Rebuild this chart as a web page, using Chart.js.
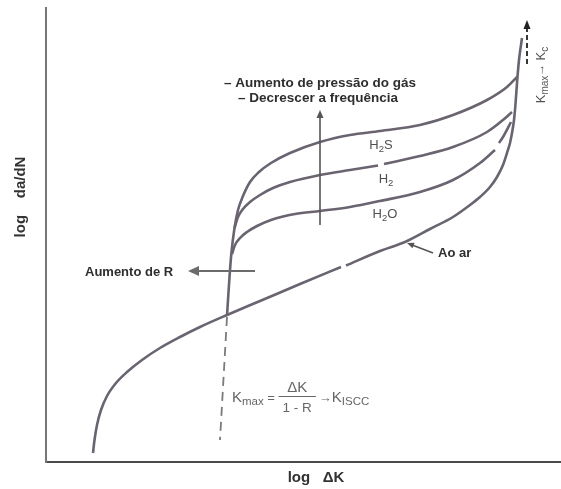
<!DOCTYPE html>
<html><head><meta charset="utf-8">
<script src="https://cdn.jsdelivr.net/npm/chart.js@4.4.0/dist/chart.umd.min.js"></script>
<style>html,body{margin:0;padding:0;background:#fff}</style>
</head><body>
<canvas id="c" width="561" height="489"></canvas>
<script>
// ---- data (arbitrary log units) ----
const airCurve = [[47,9],[48.5,22],[51,37],[55,52],[61,66],[70,79],[81,90],[96,102],[114,114],[134,125],[154,135],[181,147],[214,161],[254,178],[295,195],[297,null],[300,196.5],[334,211],[359,220],[384,233],[407,245],[424,257],[434,265],[444,275],[451,285],[457,297],[461,309],[464,319],[466,329],[468,342],[469.5,358],[471,379],[473,402],[476,424]];
const h2sCurve = [[181,146],[182,162],[183.5,185],[185.5,210],[188.5,234],[192,252],[197,266],[204,280],[213,290],[225,299],[244,309],[274,320],[304,327],[334,331],[374,337],[407,347],[441,362],[461,375],[471,385]];
const h2Curve  = [[188.5,234],[192,245],[197,253],[204,260],[214,267],[227,274],[244,280],[274,287],[304,292],[332,296.5],[334,null],[338,298],[374,306],[407,315],[441,330],[457,342],[466,350]];
const h2oCurve = [[186,208],[189,217],[194,224],[201,230],[211,236],[225,242],[249,248],[274,251],[304,255],[334,261],[374,270],[407,282],[434,299],[449,312],[451,null],[453,319],[457,325],[465,340]];
const kisccLine = [[181,145],[174,22]];

const xRange = [0, 514];
const yRange = [0, 454];

const arrowPressure = [[274,237],[274,352]];
const arrowR = [[209,191],[142,191]];
const arrowAir = [[387,209],[361,219]];
const arrowKc = [[481,398],[481,442]];

const noteLines = ['– Aumento de pressão do gás', '– Decrescer a frequência'];
const notePos = [[274,379],[272,364]];
const gasLabels = [['H','2','S'],['H','2',''],['H','2','O']];
const gasPos = [[335,317],[340,283],[339,248]];
const labelR = 'Aumento de R';
const labelRPos = [39,190];
const labelAir = 'Ao ar';
const labelAirPos = [392,209];
const kcPos = [495,387];
const formulaPos = [186,64];
const yTitle = 'log    da/dN';
const xTitle = 'log   ΔK';

const FONT = "'Liberation Sans', Arial, Helvetica, sans-serif";
const curveColor = '#6a6370';

const toXY = a => a.map(p => ({x: p[0], y: p[1]}));

function drawArrow(ctx, x1, y1, x2, y2, o) {
  const a = Math.atan2(y2 - y1, x2 - x1), L = o.head, W = o.hw;
  ctx.save();
  ctx.strokeStyle = o.color; ctx.fillStyle = o.color; ctx.lineWidth = o.width;
  ctx.setLineDash(o.dash || []);
  ctx.beginPath(); ctx.moveTo(x1, y1);
  ctx.lineTo(x2 - Math.cos(a) * L * 0.8, y2 - Math.sin(a) * L * 0.8); ctx.stroke();
  ctx.setLineDash([]);
  ctx.beginPath(); ctx.moveTo(x2, y2);
  ctx.lineTo(x2 - L * Math.cos(a) + W * Math.sin(a), y2 - L * Math.sin(a) - W * Math.cos(a));
  ctx.lineTo(x2 - L * Math.cos(a) - W * Math.sin(a), y2 - L * Math.sin(a) + W * Math.cos(a));
  ctx.closePath(); ctx.fill();
  ctx.restore();
}

function runs(ctx, segs, x, y, align) {
  let w = 0;
  segs.forEach(s => { ctx.font = (s.b ? 'bold ' : '') + s.s + 'px ' + FONT; s.w = ctx.measureText(s.t).width; w += s.w; });
  let cx = align === 'center' ? x - w / 2 : x;
  segs.forEach(s => { ctx.font = (s.b ? 'bold ' : '') + s.s + 'px ' + FONT; ctx.fillText(s.t, cx, y + (s.dy || 0)); cx += s.w; });
  return w;
}

const annot = {
  id: 'annot',
  afterDatasetsDraw(chart) {
    const ctx = chart.ctx, sx = chart.scales.x, sy = chart.scales.y;
    const P = p => [sx.getPixelForValue(p[0]), sy.getPixelForValue(p[1])];
    ctx.save();
    ctx.textBaseline = 'middle';

    // arrows
    let a = P(arrowPressure[0]), b = P(arrowPressure[1]);
    drawArrow(ctx, a[0], a[1], b[0], b[1], {head: 8, hw: 3.5, color: '#555', width: 1.6});
    a = P(arrowR[0]); b = P(arrowR[1]);
    drawArrow(ctx, a[0], a[1], b[0], b[1], {head: 11, hw: 5, color: '#6b6b6b', width: 2});
    a = P(arrowAir[0]); b = P(arrowAir[1]);
    drawArrow(ctx, a[0], a[1], b[0], b[1], {head: 7, hw: 3, color: '#555', width: 1.6});
    a = P(arrowKc[0]); b = P(arrowKc[1]);
    drawArrow(ctx, a[0], a[1], b[0], b[1], {head: 9, hw: 3.5, color: '#222', width: 1.8, dash: [5, 3]});

    // notes
    ctx.fillStyle = '#2e2e2e'; ctx.textAlign = 'left';
    noteLines.forEach((t, i) => { const p = P(notePos[i]); runs(ctx, [{t, s: 13.5, b: true}], p[0], p[1], 'center'); });
    let p = P(labelRPos);
    runs(ctx, [{t: labelR, s: 13, b: true}], p[0], p[1], 'left');
    p = P(labelAirPos);
    runs(ctx, [{t: labelAir, s: 13, b: true}], p[0], p[1], 'left');

    // gas labels
    ctx.fillStyle = '#505050';
    gasLabels.forEach((g, i) => {
      const q = P(gasPos[i]);
      runs(ctx, [{t: g[0], s: 13}, {t: g[1], s: 9.5, dy: 4}, {t: g[2], s: 13}], q[0], q[1], 'center');
    });

    // formula
    ctx.fillStyle = '#666';
    p = P(formulaPos);
    let cx = p[0], cy = p[1];
    cx += runs(ctx, [{t: 'K', s: 15}, {t: 'max', s: 11.5, dy: 4}, {t: ' = ', s: 13}], cx, cy, 'left');
    ctx.font = '15px ' + FONT;
    const wTop = ctx.measureText('ΔK').width;
    ctx.font = '13.5px ' + FONT;
    const wBot = ctx.measureText('1 - R').width;
    const barW = Math.max(wTop, wBot) + 8;
    const fc = cx + barW / 2;
    runs(ctx, [{t: 'ΔK', s: 15}], fc, cy - 10.5, 'center');
    runs(ctx, [{t: '1 - R', s: 13.5}], fc, cy + 10.5, 'center');
    ctx.strokeStyle = '#666'; ctx.lineWidth = 1.2;
    ctx.beginPath(); ctx.moveTo(cx, cy - 1.5); ctx.lineTo(cx + barW, cy - 1.5); ctx.stroke();
    cx += barW + 3;
    runs(ctx, [{t: '→', s: 13}, {t: 'K', s: 15}, {t: 'ISCC', s: 11.5, dy: 4}], cx, cy, 'left');

    // Kmax -> Kc (rotated)
    p = P(kcPos);
    ctx.save();
    ctx.translate(p[0], p[1]); ctx.rotate(-Math.PI / 2);
    ctx.fillStyle = '#555';
    runs(ctx, [{t: 'K', s: 13}, {t: 'max', s: 10, dy: 4}, {t: '→ ', s: 12}, {t: 'K', s: 13}, {t: 'c', s: 10, dy: 4}], 0, 0, 'center');
    ctx.restore();

    // axis titles
    ctx.fillStyle = '#333';
    ctx.save();
    ctx.translate(20.5, 197); ctx.rotate(-Math.PI / 2);
    runs(ctx, [{t: yTitle, s: 15, b: true}], 0, 0, 'center');
    ctx.restore();
    runs(ctx, [{t: xTitle, s: 15, b: true}], 316, 478, 'center');

    ctx.restore();
  }
};

const lineDs = (data, extra) => Object.assign({
  data: toXY(data), borderColor: curveColor, borderWidth: 2.6, pointRadius: 0,
  cubicInterpolationMode: 'monotone', fill: false, spanGaps: false
}, extra || {});

new Chart(document.getElementById('c'), {
  type: 'line',
  data: {
    datasets: [
      lineDs(airCurve),
      lineDs(h2sCurve),
      lineDs(h2Curve),
      lineDs(h2oCurve),
      lineDs(kisccLine, {borderColor: '#7a7a7a', borderWidth: 1.8, borderDash: [9, 6], cubicInterpolationMode: 'default', tension: 0})
    ]
  },
  options: {
    responsive: false,
    animation: false,
    layout: {padding: {left: 46, top: 8, right: 1, bottom: 27}},
    plugins: {legend: {display: false}, tooltip: {enabled: false}},
    scales: {
      x: {type: 'linear', min: xRange[0], max: xRange[1],
          grid: {display: false, drawTicks: false},
          ticks: {display: false},
          border: {display: true, color: '#4a4a4a', width: 2}},
      y: {type: 'linear', min: yRange[0], max: yRange[1],
          grid: {display: false, drawTicks: false},
          ticks: {display: false},
          border: {display: true, color: '#777', width: 2}}
    }
  },
  plugins: [annot]
});
</script>
</body></html>
